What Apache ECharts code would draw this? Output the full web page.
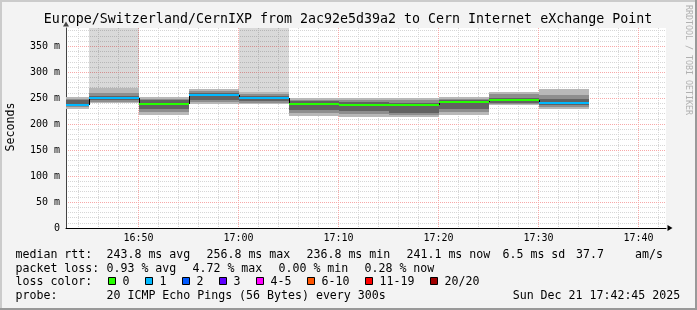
<!DOCTYPE html>
<html><head><meta charset="utf-8">
<script src="https://cdn.jsdelivr.net/npm/echarts@6/dist/echarts.min.js"></script>
<style>html,body{margin:0;padding:0;background:#f3f3f3}#c{width:697px;height:310px}</style>
</head><body><div id="c"></div>
<script>
// ---- data ----
const binStart    = ['16:40','16:45','16:50','16:55','17:00','17:05','17:10','17:15','17:20','17:25','17:30'];
const binEnd      = ['16:45','16:50','16:55','17:00','17:05','17:10','17:15','17:20','17:25','17:30','17:35'];
const medianRtt   = [236.8, 249.3, 238.8, 256.8, 250.8, 238.9, 237.6, 237.6, 242.6, 246.6, 241.1];
const lostPings   = [1, 1, 0, 1, 1, 0, 0, 0, 0, 0, 1];
const lostSmoke   = [0, 1, 0, 0, 1, 0, 0, 0, 0, 0, 0];
const smokeMin    = [230, 241, 217, 239, 239, 215, 213, 213, 217, 237, 229];
const smokeLo     = [232, 243, 224, 243, 241, 222, 219, 217, 224, 239, 232];
const smokeCoreLo = [234, 246, 230, 247, 244, 228, 225, 222, 230, 241, 236];
const smokeCoreHi = [246, 255, 246, 260, 255, 244, 242, 241, 246, 250, 249];
const smokeHi     = [249, 260, 249, 263, 258, 247, 247, 246, 249, 257, 256];
const smokeMax    = [252, 270, 252, 268, 261, 250, 250, 250, 252, 261, 267];

const timeRange  = ['16:42:45', '17:42:45'];
const timeTicks  = ['16:50', '17:00', '17:10', '17:20', '17:30', '17:40'];
const yRange     = [0, 385];
const yTickStep  = 50;
const yMinorStep = 10;

const titleText   = 'Europe/Switzerland/CernIXP from 2ac92e5d39a2 to Cern Internet eXchange Point';
const yName       = 'Seconds';
const watermark   = 'RRDTOOL / TOBI OETIKER';
const rowLabels   = ['median rtt:', 'packet loss:', 'loss color:', 'probe:'];
const rttStats    = ['243.8 ms avg', '256.8 ms max', '236.8 ms min', '241.1 ms now', '6.5 ms sd', '37.7', 'am/s'];
const lossStats   = ['0.93 % avg', '4.72 % max', '0.00 % min', '0.28 % now'];
const lossLegend  = ['0', '1', '2', '3', '4-5', '6-10', '11-19', '20/20'];
const lossColors  = ['#26ff00', '#00b8ff', '#0059ff', '#5e00ff', '#ff00ff', '#ff5500', '#ff0000', '#a00000'];
const probeText   = '20 ICMP Echo Pings (56 Bytes) every 300s';
const dateText    = 'Sun Dec 21 17:42:45 2025';

// ---- helpers ----
function toSec(s){ const p = s.split(':').map(Number); return p[0]*3600 + p[1]*60 + (p[2]||0); }
function fmt(sec){ const h=Math.floor(sec/3600), m=Math.floor(sec%3600/60), s=sec%60;
  return String(h).padStart(2,'0')+':'+String(m).padStart(2,'0')+':'+String(s).padStart(2,'0'); }
const xMin = toSec(timeRange[0]), xMax = toSec(timeRange[1]);
const xCats = [];
for (let t = xMin; t <= xMax; t += 15) xCats.push(fmt(t));
const isMajor = v => timeTicks.indexOf(v.slice(0,5)) >= 0 && v.slice(6) === '00';
const isMinor = v => v.slice(6) === '00' && Number(v.slice(3,5)) % 2 === 0 && !isMajor(v);

const data = binStart.map((s, i) => [toSec(s), toSec(binEnd[i]), smokeMin[i], smokeLo[i], smokeCoreLo[i],
  smokeCoreHi[i], smokeHi[i], smokeMax[i], medianRtt[i], lostPings[i], lostSmoke[i], i > 0 ? medianRtt[i-1] : medianRtt[i]]);

const MONO = "'DejaVu Sans Mono', monospace";
const FS = 11.6;
const rowY = [255, 268.5, 282, 295.5];
const rttX = [106.5, 206.5, 306.5, 406.5, 502.5, 576, 635];
const lossX = [106.5, 192.5, 278.5, 364.5];
const swatchX = [108, 145, 182, 219, 256, 307, 365, 430];

const txt = (x, y, t, extra) => Object.assign({type:'text', x, y, silent:true,
  style:{text:t, font: FS + 'px ' + MONO, fill:'#000', align:'left', verticalAlign:'middle'}}, extra||{});

const graphics = [
  {type:'rect', shape:{x:0,y:0,width:697,height:2}, style:{fill:'#cbcbcb'}, silent:true},
  {type:'rect', shape:{x:0,y:0,width:2,height:310}, style:{fill:'#cbcbcb'}, silent:true},
  {type:'rect', shape:{x:0,y:308,width:697,height:2}, style:{fill:'#999999'}, silent:true},
  {type:'rect', shape:{x:695,y:0,width:2,height:310}, style:{fill:'#999999'}, silent:true},
  {type:'text', x:348, y:20, silent:true, style:{text:titleText, font:'13.3px '+MONO, fill:'#000', align:'center', verticalAlign:'middle'}},
  {type:'text', x:10.5, y:127, rotation:Math.PI/2, silent:true, style:{text:yName, font:FS+'px '+MONO, fill:'#000', align:'center', verticalAlign:'middle'}},
  {type:'text', x:688, y:60, rotation:-Math.PI/2, silent:true, style:{text:watermark, font:'8.3px '+MONO, fill:'#b0b0b0', align:'center', verticalAlign:'middle'}}
];
rowLabels.forEach((t, r) => graphics.push(txt(15.5, rowY[r], t)));
rttStats.forEach((t, k) => graphics.push(txt(rttX[k], rowY[0], t)));
lossStats.forEach((t, k) => graphics.push(txt(lossX[k], rowY[1], t)));
lossLegend.forEach((t, k) => {
  graphics.push({type:'rect', silent:true, shape:{x:swatchX[k]+0.5, y:277.5, width:7, height:7}, style:{fill:lossColors[k], stroke:'#000', lineWidth:1}});
  graphics.push(txt(swatchX[k]+14.5, rowY[2], t));
});
graphics.push(txt(106.5, rowY[3], probeText));
graphics.push(txt(512.7, rowY[3], dateText));

const gray = '#d6d6d6', pink = '#f7a8a8';
const minorColors = [gray, gray, gray, gray, 'transparent'];

const chart = echarts.init(document.getElementById('c'), null, {renderer:'canvas'});
chart.setOption({
  animation:false,
  backgroundColor:'#f3f3f3',
  grid:{left:66, top:28, width:600, height:200, show:true, backgroundColor:'#ffffff', borderWidth:0, containLabel:false, outerBoundsMode:'none'},
  xAxis:[
    {type:'value', min:xMin, max:xMax, show:false},
    {type:'category', data:xCats, boundaryGap:false, position:'bottom', z:0,
      axisLine:{show:false}, axisTick:{show:false}, axisLabel:{show:false},
      splitLine:{show:true, interval:(i, v) => isMinor(v), lineStyle:{color:gray, width:1, type:[1,1]}}},
    {type:'category', data:xCats, boundaryGap:false, position:'bottom', z:1,
      axisLine:{show:true, onZero:false, symbol:['none','triangle'], symbolSize:[6,5], symbolOffset:[0,4], lineStyle:{color:'#000', width:1}},
      axisTick:{show:false},
      axisLabel:{show:true, interval:(i, v) => isMajor(v), formatter:v => v.slice(0,5), margin:5,
        fontFamily:MONO, fontSize:10, color:'#000'},
      splitLine:{show:true, interval:(i, v) => isMajor(v), lineStyle:{color:pink, width:1, type:[1,1]}}}
  ],
  yAxis:[
    {type:'value', min:yRange[0], max:yRange[1], interval:yTickStep, z:1,
      axisLine:{show:true, onZero:false, symbol:['none','triangle'], symbolSize:[6,5], symbolOffset:[0,4], lineStyle:{color:'#444', width:1}},
      axisTick:{show:false},
      axisLabel:{show:true, margin:6, fontFamily:MONO, fontSize:10, color:'#000', showMaxLabel:false,
        formatter:v => v === 0 ? '0' : (v % yTickStep === 0 ? v + ' m' : '')},
      splitLine:{show:true, showMinLine:false, showMaxLine:false, lineStyle:{color:pink, width:1, type:[1,1]}}},
    {type:'value', min:yRange[0], max:yRange[1], interval:yMinorStep, position:'left', z:0,
      axisLine:{show:false}, axisTick:{show:false}, axisLabel:{show:false},
      splitLine:{show:true, showMinLine:false, showMaxLine:false, lineStyle:{color:minorColors, width:1, type:[1,1]}}}
  ],
  series:[{
    type:'custom', xAxisIndex:0, yAxisIndex:0, clip:true, z:2, data:data,
    renderItem:function(params, api){
      const x0 = Math.round(api.coord([api.value(0), 0])[0]);
      const x1 = Math.round(api.coord([api.value(1), 0])[0]);
      const Y = v => Math.round(api.coord([api.value(0), v])[1]);
      const ch = [];
      const band = (lo, hi, fill) => ch.push({type:'rect', shape:{x:x0, y:Y(hi), width:x1-x0, height:Y(lo)-Y(hi)}, style:{fill:fill}});
      if (api.value(10)) band(api.value(7), yRange[1], 'rgba(0,0,0,0.15)');
      band(api.value(2), api.value(7), '#b8b8b8');
      band(api.value(3), api.value(6), '#8e8e8e');
      band(api.value(4), api.value(5), '#626262');
      const ym = Y(api.value(8));
      if (params.dataIndex > 0) ch.push({type:'line', shape:{x1:x0+0.5, y1:Y(api.value(11)), x2:x0+0.5, y2:ym}, style:{stroke:'#000', lineWidth:1}});
      ch.push({type:'rect', shape:{x:x0, y:ym-1, width:x1-x0, height:2}, style:{fill:lossColors[api.value(9)]}});
      return {type:'group', children:ch};
    }
  }],
  graphic:graphics
});
</script></body></html>
